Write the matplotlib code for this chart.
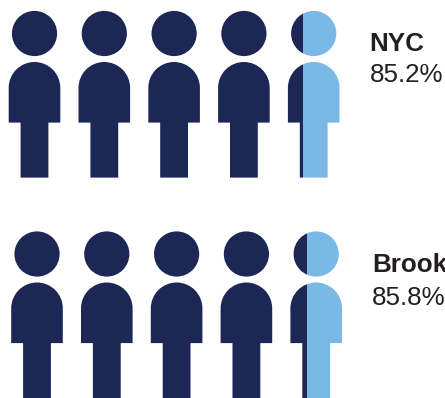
import matplotlib
matplotlib.use("Agg")
import numpy as np
import matplotlib.pyplot as plt
from matplotlib.patches import PathPatch, Rectangle
from matplotlib.path import Path
from matplotlib.transforms import Affine2D

# Data
areas = ["NYC", "Brooklyn"]
percents = [85.2, 85.8]
people_count = 5

# Layout, in reference pixels
W, H = 445, 398
origins_x = [34.5, 37.0]
origins_y = [0.0, 220.5]
STEP = 69.8
HEAD_Y, HEAD_R = 33.5, 22.6
BODY_TOP, BODY_R, BODY_BOTTOM = 62.0, 25.8, 122.6
LEG_HALF, LEG_BOTTOM = 13.9, 177.6
text_x = [369.5, 372.0]
name_base = [51.0, 272.0]
value_base = [82.5, 305.0]
DARK, LIGHT, INK = "#1d2756", "#7ab8e6", "#231f20"

fig = plt.figure(figsize=(W / 100, H / 100), dpi=100)
ax = fig.add_axes([0, 0, 1, 1])
ax.set_xlim(0, W)
ax.set_ylim(H, 0)
ax.axis("off")


def person_path(cx, dy):
    head = Path.circle((cx, dy + HEAD_Y), HEAD_R)
    arc = Path.arc(180, 360).transformed(
        Affine2D().scale(BODY_R).translate(cx, dy + BODY_TOP + BODY_R))
    lower = [
        (cx + BODY_R, dy + BODY_BOTTOM),
        (cx + LEG_HALF, dy + BODY_BOTTOM),
        (cx + LEG_HALF, dy + LEG_BOTTOM),
        (cx - LEG_HALF, dy + LEG_BOTTOM),
        (cx - LEG_HALF, dy + BODY_BOTTOM),
        (cx - BODY_R, dy + BODY_BOTTOM),
        (cx - BODY_R, dy + BODY_TOP + BODY_R),
        (cx - BODY_R, dy + BODY_TOP + BODY_R),
    ]
    verts = np.vstack([arc.vertices, lower])
    codes = list(arc.codes) + [Path.LINETO] * 7 + [Path.CLOSEPOLY]
    return Path.make_compound_path(head, Path(verts, codes))


def person(cx, dy, color, clip=None):
    patch = PathPatch(person_path(cx, dy), facecolor=color, edgecolor="none", snap=False)
    ax.add_patch(patch)
    if clip is not None:
        patch.set_clip_path(clip)


for i, (name, pct) in enumerate(zip(areas, percents)):
    x0, dy = origins_x[i], origins_y[i]
    for k in range(people_count - 1):
        person(x0 + k * STEP, dy, DARK)
    # the last figure is split at the share left over after the whole figures
    cx = x0 + (people_count - 1) * STEP
    frac = pct / 100 * people_count - (people_count - 1) + 0.035
    split = cx - BODY_R + frac * 2 * BODY_R
    person(cx, dy, DARK, clip=Rectangle((cx - 60, dy), split - cx + 60, 200, transform=ax.transData))
    person(cx, dy, LIGHT, clip=Rectangle((split, dy), 60, 200, transform=ax.transData))

    ax.text(text_x[i], name_base[i], name, family="Liberation Sans", weight="bold",
            fontsize=18.7, color=INK, ha="left", va="baseline", clip_on=True)
    ax.text(text_x[i], value_base[i], f"{pct:.1f}%", family="Liberation Sans",
            fontsize=18.7, color=INK, ha="left", va="baseline", clip_on=True)

fig.savefig("out.png", dpi=100, facecolor="white")
